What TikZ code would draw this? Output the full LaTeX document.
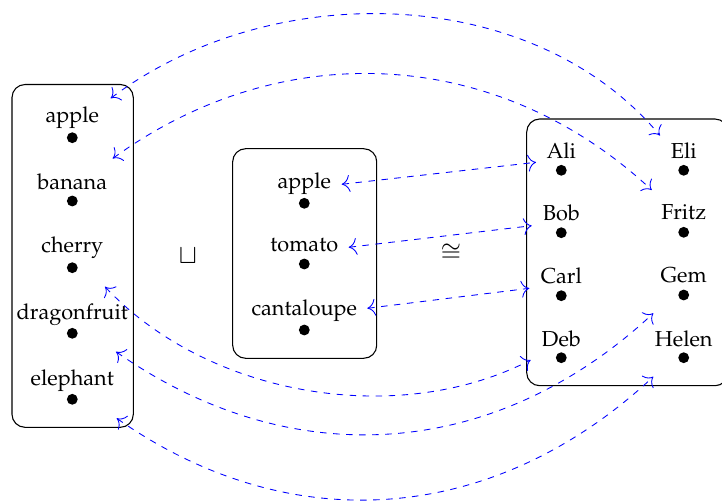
\documentclass[tikz,border=0pt]{standalone}
\usepackage[T1]{fontenc}
\usepackage{mathpazo}
\usetikzlibrary{arrows.meta}
\begin{document}
\begin{tikzpicture}[x=0.4615pt,y=0.4615pt,
  dot/.style={circle,fill,inner sep=0pt,minimum size=5pt},
  lab/.style={anchor=base,inner sep=0pt},
  grp/.style={draw,rounded corners=6pt,line width=0.5pt},
  link/.style={{To[scale=1.5]}-{To[scale=1.5]},blue,dashed,line width=0.4pt}]
\useasboundingbox (0,0) rectangle (722,-501);

% boxes
\draw[grp] (12,-84.5) rectangle (133.3,-427.3);
\draw[grp] (232.7,-148.7) rectangle (376.7,-358.3);
\draw[grp] (526.7,-119) rectangle (728,-385.7);

% left set
\node[dot] (d-apple) at (72.3,-137.7) {};
\node[lab] (l-apple) at (72.3,-122.7) {apple};
\node[dot] (d-banana) at (72.3,-201) {};
\node[lab] (l-banana) at (72.3,-189) {banana};
\node[dot] (d-cherry) at (72.3,-267.7) {};
\node[lab] (l-cherry) at (72.3,-252.3) {cherry};
\node[dot] (d-dragon) at (72.3,-333.3) {};
\node[lab] (l-dragon) at (72.3,-319.3) {dragonfruit};
\node[dot] (d-eleph) at (72.3,-399.3) {};
\node[lab] (l-eleph) at (72.3,-385) {elephant};

% middle set
\node[dot] (d-apple2) at (304.3,-203.3) {};
\node[lab] (l-apple2) at (304.3,-188.3) {apple};
\node[dot] (d-tomato) at (304.3,-264) {};
\node[lab] (l-tomato) at (304.3,-251.7) {tomato};
\node[dot] (d-cant) at (304.3,-330) {};
\node[lab] (l-cant) at (304.3,-315) {cantaloupe};

% right set, first column
\node[dot] (d-ali) at (561.3,-170.3) {};
\node[lab] (l-ali) at (561.3,-158.3) {Ali};
\node[dot] (d-bob) at (561.3,-232.7) {};
\node[lab] (l-bob) at (561.3,-220) {Bob};
\node[dot] (d-carl) at (561.3,-295.7) {};
\node[lab] (l-carl) at (561.3,-283.3) {Carl};
\node[dot] (d-deb) at (561.3,-357.7) {};
\node[lab] (l-deb) at (561.3,-346) {Deb};
% right set, second column
\node[dot] (d-eli) at (683.7,-170.3) {};
\node[lab] (l-eli) at (683.7,-158.3) {Eli};
\node[dot] (d-fritz) at (683.7,-232.3) {};
\node[lab] (l-fritz) at (683.7,-219.3) {Fritz};
\node[dot] (d-gem) at (683.7,-295) {};
\node[lab] (l-gem) at (683.7,-282.7) {Gem};
\node[dot] (d-helen) at (683.7,-357.7) {};
\node[lab] (l-helen) at (683.7,-346) {Helen};

% operators
\node[inner sep=0pt] (sqcup) at (188,-255.6) {\large$\sqcup$};
\node[inner sep=0pt] (cong) at (451,-253) {\fontsize{11.5pt}{14pt}\selectfont$\cong$};

% connector ends
\coordinate (s1) at (110.7,-98.3);  \coordinate (e1) at (660,-135.5);
\coordinate (s2) at (112.7,-158.5); \coordinate (e2) at (651.7,-190);
\coordinate (s3) at (105,-286.7);   \coordinate (e3) at (530.7,-360);
\coordinate (s4) at (116,-351.7);   \coordinate (e4) at (653.3,-313.3);
\coordinate (s5) at (116.7,-418.3); \coordinate (e5) at (653.3,-376.7);
\coordinate (m1a) at (341.7,-184.3); \coordinate (m1b) at (536,-162.3);
\coordinate (m2a) at (348.7,-247.3); \coordinate (m2b) at (531.7,-225.7);
\coordinate (m3a) at (367.3,-308.3); \coordinate (m3b) at (529.3,-288.3);

% connectors
\draw[link] (s1) .. controls +(37:200) and +(130:200) .. (e1);
\draw[link] (s2) .. controls +(36:210) and +(137:210) .. (e2);
\draw[link] (s3) .. controls +(-46.8:150) and +(207.2:150) .. (e3);
\draw[link] (s4) .. controls +(-35:215) and +(223:215) .. (e4);
\draw[link] (s5) .. controls +(-35:215) and +(223:215) .. (e5);
\draw[link] (m1a) -- (m1b);
\draw[link] (m2a) -- (m2b);
\draw[link] (m3a) -- (m3b);
\end{tikzpicture}
\end{document}
